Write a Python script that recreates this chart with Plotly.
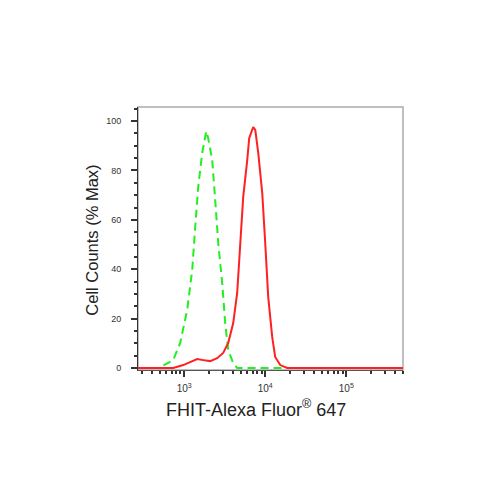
import plotly.graph_objects as go

# Isotype control (green, dashed) - fluorescence intensity vs % max
control_x = [270, 479, 731, 891, 1089, 1256, 1368, 1489, 1667, 1871, 1977, 2218,
             2415, 2630, 2944, 3206, 3491, 4027, 4508, 8000, 20000, 100000, 500000]
control_y = [0, 0, 3.2, 10.1, 23.5, 39.7, 57.1, 73.3, 87.0, 95.9, 93.1, 84.2,
             68.0, 50.6, 34.4, 18.2, 7.3, 2.0, 0, 0, 0, 0, 0]

# FHIT stained sample (red, solid)
sample_x = [270, 731, 973, 1186, 1445, 1718, 2094, 2553, 3027, 3491, 4027, 4508,
            4909, 5346, 5998, 6339, 7112, 7534, 8204, 9183, 10000, 10890, 12190,
            13270, 15310, 18710, 100000, 500000]
sample_y = [0, 0, 1.2, 2.4, 3.6, 3.2, 2.8, 4.0, 6.1, 10.1, 18.2, 30.4,
            47.8, 69.2, 84.2, 93.1, 97.6, 96.4, 87.0, 70.9, 50.6, 28.7, 12.6,
            4.5, 1.2, 0, 0, 0]

x_ticks = [1000, 10000, 100000]
x_labels = ["10<sup>3</sup>", "10<sup>4</sup>", "10<sup>5</sup>"]
y_ticks = [0, 20, 40, 60, 80, 100]

fig = go.Figure()
fig.add_trace(go.Scatter(x=control_x, y=control_y, mode="lines",
                         line=dict(color="#22ee22", width=2, dash="8px,5px")))
fig.add_trace(go.Scatter(x=sample_x, y=sample_y, mode="lines",
                         line=dict(color="#ff2020", width=2)))

fig.update_layout(
    width=500, height=500,
    margin=dict(l=130, r=105, t=99, b=138),
    paper_bgcolor="white", plot_bgcolor="white",
    showlegend=False,
    font=dict(family="Liberation Sans, Arial, sans-serif", color="#222"),
    shapes=[dict(type="rect", xref="paper", yref="paper", x0=0, y0=0, x1=1, y1=1,
                 line=dict(color="#aaaaaa", width=1.5), layer="below")],
    # axis titles as annotations so they can sit off-centre like the original
    annotations=[
        dict(text="FHIT-Alexa Fluor<sup>®</sup> 647", xref="paper", yref="paper",
             x=0.445, y=-0.148, showarrow=False, xanchor="center", yanchor="middle",
             font=dict(size=18, color="#222")),
        dict(text="Cell Counts (% Max)", xref="paper", yref="paper",
             x=-0.175, y=0.494, showarrow=False, textangle=-90,
             xanchor="center", yanchor="middle",
             font=dict(size=16.5, color="#222")),
    ],
)

fig.update_xaxes(
    type="log", range=[2.43, 5.70],
    tickvals=x_ticks, ticktext=x_labels,
    ticks="outside", ticklen=6, tickwidth=1.5, tickcolor="#333",
    minor=dict(dtick="D1", ticks="outside", ticklen=3, tickcolor="#333"),
    showline=True, linecolor="#555", linewidth=1,
    showgrid=False, zeroline=False,
    tickfont=dict(size=10, color="#333"),
    ticklabelstandoff=3,
)
fig.update_yaxes(
    range=[-0.8, 105.7],
    tickvals=y_ticks,
    ticks="outside", ticklen=6, tickwidth=1.5, tickcolor="#333",
    minor=dict(dtick=5, ticks="outside", ticklen=3, tickcolor="#333"),
    showline=True, linecolor="#333", linewidth=1,
    showgrid=False, zeroline=False,
    tickfont=dict(size=9, color="#333"),
    ticklabelstandoff=8,
)

fig.write_html("out.html")
